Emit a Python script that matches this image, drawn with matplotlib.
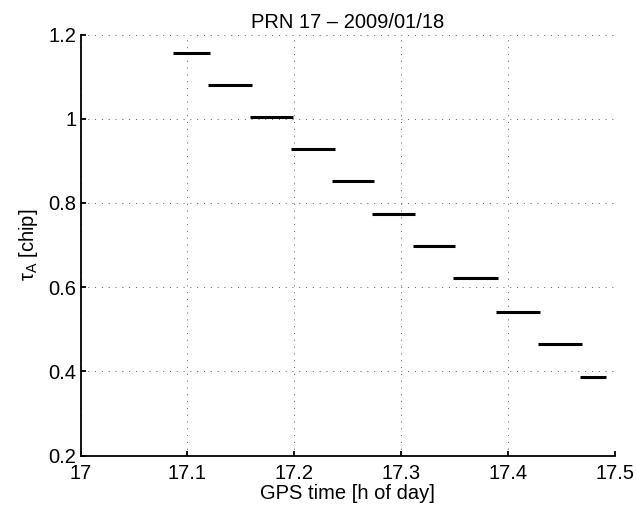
import matplotlib
matplotlib.use("Agg")
import matplotlib.pyplot as plt

# Data: each estimate of tau_A holds over a time interval [t_start, t_end]
t_start = [17.0865, 17.1193, 17.1589, 17.1965, 17.2355, 17.2729, 17.3108, 17.3482, 17.3888, 17.4277, 17.4666]
t_end   = [17.1215, 17.1607, 17.1987, 17.2377, 17.2744, 17.3131, 17.3505, 17.3907, 17.4293, 17.4688, 17.4910]
tau_A   = [1.156, 1.081, 1.004, 0.929, 0.852, 0.775, 0.697, 0.621, 0.542, 0.465, 0.387]

x_ticks = [17, 17.1, 17.2, 17.3, 17.4, 17.5]
x_ticklabels = ["17", "17.1", "17.2", "17.3", "17.4", "17.5"]
y_ticks = [0.2, 0.4, 0.6, 0.8, 1.0, 1.2]
y_ticklabels = ["0.2", "0.4", "0.6", "0.8", "1", "1.2"]

plt.rcParams['font.family'] = ['Liberation Sans', 'DejaVu Sans']
plt.rcParams['mathtext.fontset'] = 'custom'
plt.rcParams['mathtext.rm'] = 'Liberation Sans'
plt.rcParams['mathtext.it'] = 'Liberation Sans'
fs = 14.5

fig = plt.figure(figsize=(6.37, 5.14), dpi=100)
ax = fig.add_axes([80.5/637, 1 - 455.7/514, (615.3 - 80.5)/637, (455.7 - 34.5)/514])

ax.hlines(tau_A, t_start, t_end, colors='black', linewidth=2.2)

ax.set_xlim(17, 17.5)
ax.set_ylim(0.2, 1.2)
ax.set_xticks(x_ticks)
ax.set_xticklabels(x_ticklabels)
ax.set_yticks(y_ticks)
ax.set_yticklabels(y_ticklabels)

ax.grid(True, color='0.35', linestyle=(0, (1, 6)), linewidth=0.7)
ax.set_axisbelow(True)

for s in ['top', 'right']:
    ax.spines[s].set_visible(False)
for s in ['left', 'bottom']:
    ax.spines[s].set_linewidth(1.3)

ax.tick_params(axis='both', direction='in', length=3.5, width=1.3, labelsize=fs)
ax.tick_params(axis='x', pad=6)
ax.tick_params(axis='y', pad=3)

ax.set_title("PRN 17 \u2013 2009/01/18", fontsize=fs, pad=5)
ax.set_xlabel("GPS time [h of day]", fontsize=fs, labelpad=1)
ax.set_ylabel("\u03c4$_{\\mathrm{A}}$ [chip]", fontsize=fs, labelpad=6)

fig.savefig("out.png", dpi=100)
